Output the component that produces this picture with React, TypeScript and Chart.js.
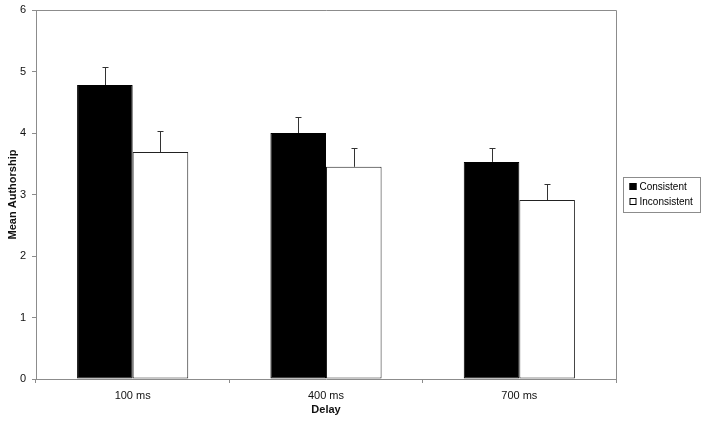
import React, { useEffect, useRef } from "react";
import { Chart, registerables } from "chart.js";

Chart.register(...registerables);

const categories = ["100 ms", "400 ms", "700 ms"];
const consistent = [4.78, 4.0, 3.53];
const consistentErr = [0.29, 0.26, 0.23];
const inconsistent = [3.69, 3.45, 2.91];
const inconsistentErr = [0.35, 0.31, 0.26];
const yTicks = [0, 1, 2, 3, 4, 5, 6];

const FONT = "'Liberation Sans', Arial, sans-serif";
const AXIS = "#8c8c8c";

const errorBarPlugin = {
  id: "errorBars",
  afterDatasetsDraw(chart: any) {
    const ctx = chart.ctx;
    const y = chart.scales.y;
    chart.data.datasets.forEach((ds: any, di: number) => {
      const meta = chart.getDatasetMeta(di);
      const errs = ds.errors as number[];
      meta.data.forEach((bar: any, i: number) => {
        const v = ds.data[i];
        const top = y.getPixelForValue(v + errs[i]);
        const base = y.getPixelForValue(v);
        const x = Math.round(bar.x) + 0.5;
        ctx.save();
        ctx.strokeStyle = "#333";
        ctx.lineWidth = 1;
        ctx.beginPath();
        ctx.moveTo(x, base);
        ctx.lineTo(x, Math.round(top) + 0.5);
        ctx.moveTo(x - 3, Math.round(top) + 0.5);
        ctx.lineTo(x + 3, Math.round(top) + 0.5);
        ctx.stroke();
        ctx.restore();
      });
    });
  },
};

const framePlugin = {
  id: "frame",
  afterDraw(chart: any) {
    const { ctx, chartArea } = chart;
    const { left, right, top, bottom } = chartArea;
    ctx.save();
    ctx.strokeStyle = AXIS;
    ctx.lineWidth = 1;
    ctx.beginPath();
    ctx.moveTo(left, Math.round(top) + 0.5);
    ctx.lineTo(Math.round(right) + 0.5, Math.round(top) + 0.5);
    ctx.lineTo(Math.round(right) + 0.5, bottom);
    ctx.stroke();

    // legend
    const lx = Math.round(right) + 7.5;
    const ly = 177.5;
    const lw = 77;
    const lh = 35;
    ctx.strokeStyle = AXIS;
    ctx.strokeRect(lx, ly, lw, lh);
    ctx.font = "10px " + FONT;
    ctx.textBaseline = "middle";
    ctx.textAlign = "left";
    chart.data.datasets.forEach((ds: any, i: number) => {
      const cy = ly + 9 + i * 15;
      ctx.fillStyle = ds.backgroundColor;
      ctx.fillRect(lx + 6, cy - 3.5, 7, 7);
      ctx.strokeStyle = "#000";
      ctx.strokeRect(lx + 6.5, cy - 3, 6, 6);
      ctx.fillStyle = "#000";
      ctx.fillText(ds.label, lx + 16, cy + 0.5);
    });
    ctx.restore();
  },
};

export default function App() {
  const ref = useRef<HTMLCanvasElement>(null);
  useEffect(() => {
    const chart = new Chart(ref.current!, {
      type: "bar",
      data: {
        labels: categories,
        datasets: [
          {
            label: "Consistent",
            data: consistent,
            errors: consistentErr,
            backgroundColor: "#000000",
            borderColor: "#000000",
            borderWidth: 1,
            borderSkipped: false,
          } as any,
          {
            label: "Inconsistent",
            data: inconsistent,
            errors: inconsistentErr,
            backgroundColor: "#ffffff",
            borderColor: "#222222",
            borderWidth: 1,
            borderSkipped: false,
          } as any,
        ],
      },
      options: {
        animation: false,
        responsive: false,
        layout: { padding: { top: 10, right: 85, left: 0, bottom: 0 } },
        datasets: { bar: { categoryPercentage: 0.575, barPercentage: 1 } },
        plugins: { legend: { display: false }, tooltip: { enabled: false } },
        scales: {
          x: {
            afterFit: (s: any) => {
              s.height = 42;
            },
            grid: {
              drawOnChartArea: false,
              tickLength: 4,
              color: AXIS,
            },
            border: { color: AXIS },
            ticks: {
              color: "#111",
              font: { family: FONT, size: 11 },
              padding: 6,
            },
            title: {
              display: true,
              text: "Delay",
              color: "#111",
              font: { family: FONT, size: 11, weight: "bold" },
              padding: { top: 2, bottom: 4 },
            },
          },
          y: {
            min: 0,
            max: 6,
            afterFit: (s: any) => {
              s.width = 36;
              s.paddingTop = 0;
              s.paddingBottom = 0;
            },
            afterBuildTicks: (s: any) => {
              s.ticks = yTicks.map((v) => ({ value: v }));
            },
            grid: {
              drawOnChartArea: false,
              tickLength: 4,
              color: AXIS,
            },
            border: { color: AXIS },
            ticks: {
              color: "#111",
              font: { family: FONT, size: 11 },
              padding: 6,
            },
            title: {
              display: true,
              text: "Mean Authorship",
              color: "#111",
              font: { family: FONT, size: 11, weight: "bold" },
              padding: { top: 6, bottom: 2 },
            },
          },
        },
      },
      plugins: [errorBarPlugin, framePlugin],
    } as any);
    return () => chart.destroy();
  }, []);
  return (
    <div style={{ position: "fixed", left: 0, top: 0, width: 701, height: 421, background: "#fff" }}>
      <canvas ref={ref} width={701} height={421} style={{ width: 701, height: 421 }} />
    </div>
  );
}
